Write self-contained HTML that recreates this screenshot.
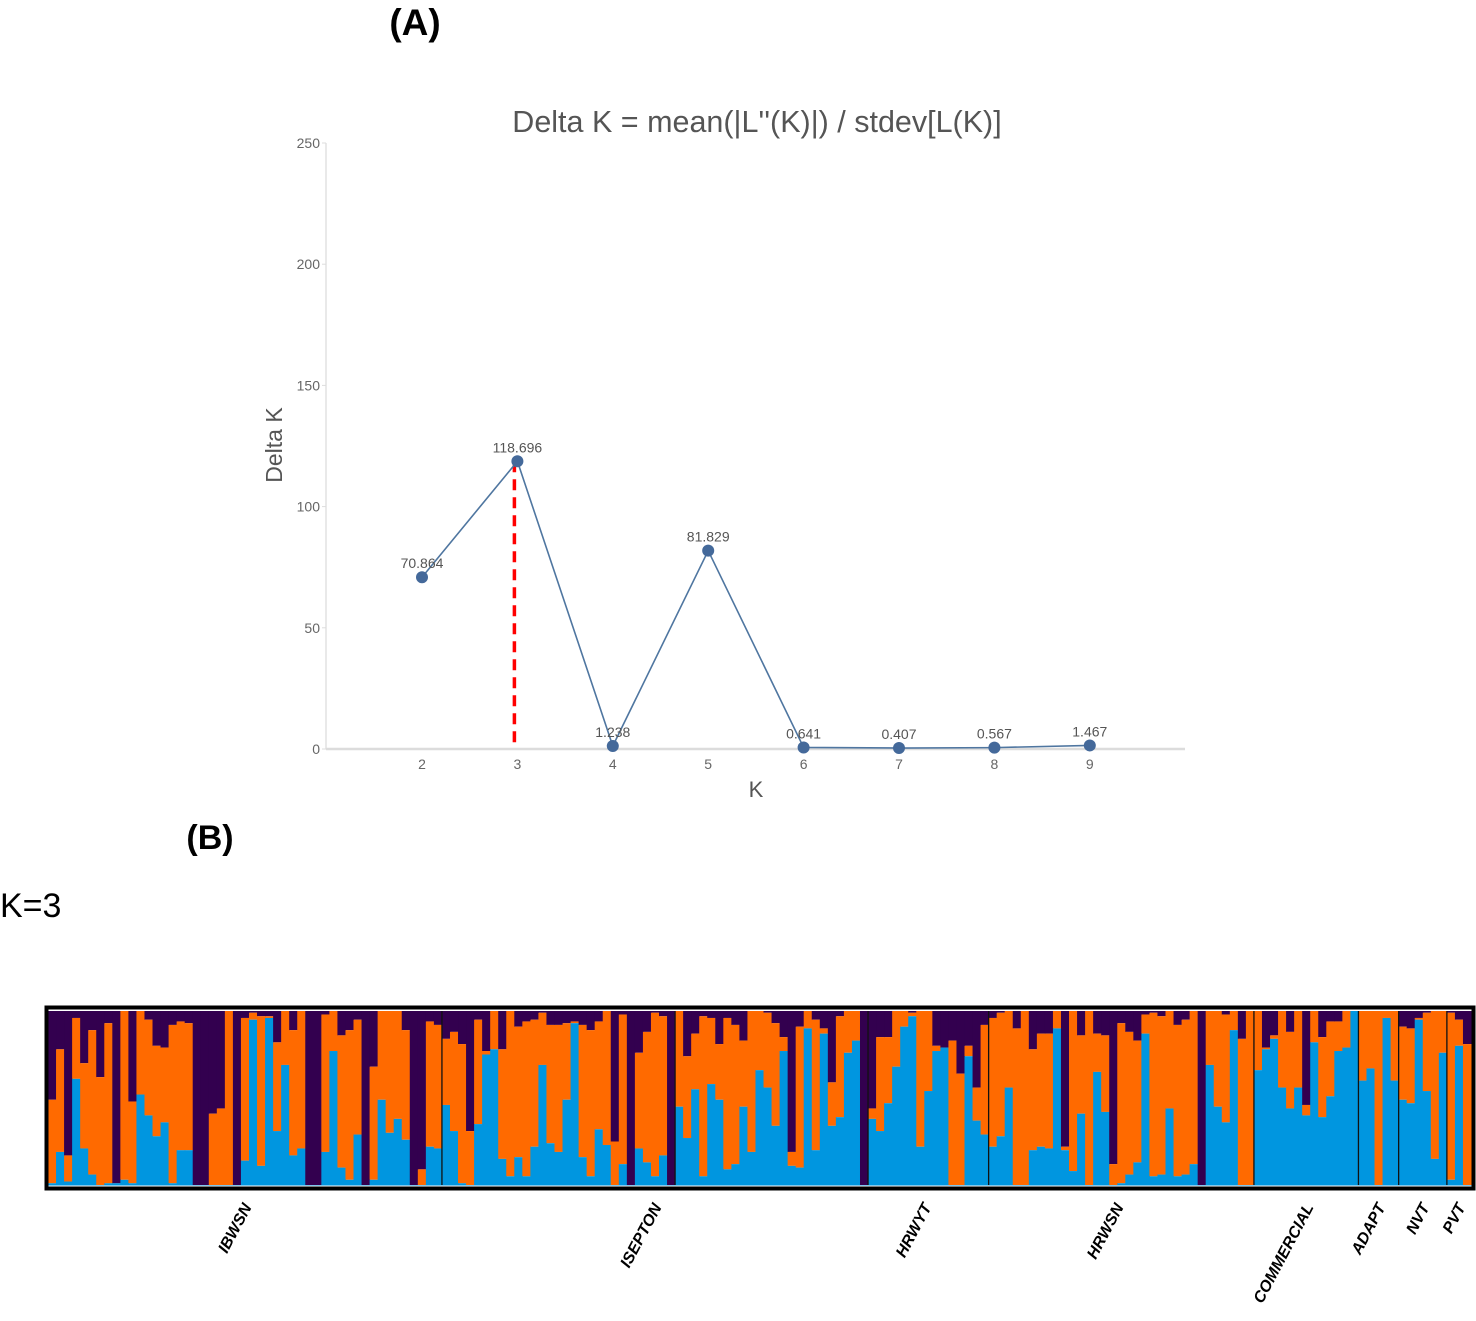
<!DOCTYPE html>
<html><head><meta charset="utf-8">
<style>
html,body{margin:0;padding:0;background:#fff;}
body{width:1476px;height:1321px;overflow:hidden;font-family:"Liberation Sans",sans-serif;}
svg{display:block;}
</style></head>
<body>
<svg id="root" width="1476" height="1321" viewBox="0 0 1476 1321">
  <text x="415" y="35" text-anchor="middle" font-family="Liberation Sans, sans-serif" font-weight="bold" font-size="37" fill="#000">(A)</text>
  <text x="757" y="132" text-anchor="middle" font-size="30.5" fill="#555">Delta K = mean(|L''(K)|) / stdev[L(K)]</text>
  <g id="lineChart"></g>
  <text x="210" y="849" text-anchor="middle" font-weight="bold" font-size="34" fill="#000">(B)</text>
  <text x="0" y="917" font-size="34" fill="#000">K=3</text>
  <g id="structure"></g>
</svg>
<script>
// ---- Delta K chart data ----
const kValues = [2,3,4,5,6,7,8,9];
const deltaK = [70.864,118.696,1.238,81.829,0.641,0.407,0.567,1.467];
const deltaKLabels = ["70.864","118.696","1.238","81.829","0.641","0.407","0.567","1.467"];
const yTicks = [0,50,100,150,200,250];
const bestK = 3;

// ---- STRUCTURE plot data (percent per individual) ----
const purplePct = [51,22,83,4,30,11,38,7,99,0,52,0,5,20,21,8,6,7,100,100,59,56,0,100,4,1,3,3,18,0,11,0,100,100,2,0,14,11,5,100,32,0,0,0,11,
100,91,6,8,16,12,19,69,5,23,0,22,0,9,6,5,1,8,8,7,6,8,11,6,0,75,2,100,24,12,1,3,100,0,26,13,3,4,19,4,8,17,0,
0,1,7,15,81,9,0,5,10,41,3,0,0,100,56,15,15,0,0,1,0,0,20,21,17,36,20,44,8,4,1,0,10,0,22,13,13,0,78,0,14,0,13,14,88,
7,12,17,2,1,3,0,8,5,0,100,0,0,2,0,16,0,0,21,14,0,12,0,54,0,15,6,6,0,0,0,0,0,0,0,9,10,4,1,0,0,1,5,19];
const bluePct = [1,19,2,61,21,6,0,1,1,3,1,52,40,28,36,1,20,20,0,0,0,0,0,0,14,95,11,96,31,69,17,21,0,0,19,77,10,3,29,0,3,49,30,38,26,
0,0,22,21,46,31,1,0,35,75,78,15,5,16,5,22,69,24,19,49,93,16,5,32,23,0,12,0,21,13,5,17,0,45,27,55,5,58,49,9,12,45,19,
66,56,34,77,11,10,90,20,87,34,39,76,83,0,38,31,47,68,91,97,22,54,77,79,0,0,74,37,29,22,28,56,0,0,20,22,21,90,20,8,41,0,65,42,0,
1,6,13,87,5,6,44,5,6,12,0,69,45,36,89,0,0,66,78,84,56,44,56,40,82,39,51,77,79,100,60,67,0,96,60,49,47,95,54,15,76,3,80,0];
const groupDividers = [49,78,102,117,150,163,168,174];
const groupNames = ["IBWSN","ISEPTON","HRWYT","HRWSN","COMMERCIAL","ADAPT","NVT","PVT"];
const groupLabelX = [252,662,932,1124,1314,1386,1430,1466];

const NS="http://www.w3.org/2000/svg";
function mk(tag, attrs, parent){const e=document.createElementNS(NS,tag);for(const k in attrs)e.setAttribute(k,attrs[k]);parent.appendChild(e);return e;}

// ---- line chart ----
(function(){
  const g=document.getElementById('lineChart');
  const x0=326,x1=1185,y0=749,yTop=143;
  const yS=v=>y0-(v/250)*(y0-yTop);
  const xS=k=>422+(k-2)*95.4;
  const ax=mk('line',{x1:x0,y1:yTop,x2:x0,y2:y0,stroke:'#e2e2e2','stroke-width':1.5},g);
  
  const bx=mk('line',{x1:x0,y1:y0,x2:x1,y2:y0,stroke:'#dcdcdc','stroke-width':2.5},g);
  
  yTicks.forEach(t=>{
    const tl=mk('line',{x1:x0-4,y1:yS(t),x2:x0,y2:yS(t),stroke:'#ddd'},g);
    
    const tx=mk('text',{x:x0-6,y:yS(t)+5,'text-anchor':'end','font-size':14,fill:'#666'},g);
    tx.textContent=t;
    
  });
  kValues.forEach(k=>{
    const tx=mk('text',{x:xS(k),y:769,'text-anchor':'middle','font-size':14,fill:'#666'},g);
    tx.textContent=k;
    
  });
  const yt=mk('text',{x:0,y:0,'text-anchor':'middle','font-size':23,fill:'#555',transform:'translate(282,445) rotate(-90)'},g);
  yt.textContent='Delta K';
  
  const xt=mk('text',{x:756,y:797,'text-anchor':'middle','font-size':22,fill:'#555'},g);
  xt.textContent='K';
  
  const bi=kValues.indexOf(bestK);
  const rl=mk('line',{x1:xS(bestK)-3,y1:yS(deltaK[bi]),x2:xS(bestK)-3,y2:y0,stroke:'#f00','stroke-width':3.5,'stroke-dasharray':'11,7'},g);
  
  const pts=kValues.map((k,i)=>xS(k)+','+yS(deltaK[i])).join(' ');
  const pl=mk('polyline',{points:pts,fill:'none',stroke:'#4f76a0','stroke-width':1.6},g);
  
  kValues.forEach((k,i)=>{
    const c=mk('circle',{cx:xS(k),cy:yS(deltaK[i]),r:6,fill:'#44699a'},g);
    
    const l=mk('text',{x:xS(k),y:yS(deltaK[i])-9,'text-anchor':'middle','font-size':14,fill:'#555'},g);
    l.textContent=deltaKLabels[i];
    
  });
})();

// ---- structure plot ----
(function(){
  const g=document.getElementById('structure');
  const L=48,R=1471,T=1011,B=1185,H=B-T;
  const n=purplePct.length, w=(R-L)/n;
  purplePct.forEach((p,i)=>{
    const b=bluePct[i], o=Math.max(0,100-p-b);
    const x=L+i*w;
    const rp=mk('rect',{x:x,y:T,width:w+0.6,height:H*p/100,fill:'#33004f'},g);
    
    const ro=mk('rect',{x:x,y:T+H*p/100,width:w+0.6,height:H*o/100,fill:'#ff6a00'},g);
    
    const rb=mk('rect',{x:x,y:T+H*(p+o)/100,width:w+0.6,height:H*b/100+0.5,fill:'#0096e0'},g);
    
  });
  groupDividers.forEach(d=>{
    const ln=mk('line',{x1:L+d*w,y1:T,x2:L+d*w,y2:B,stroke:'#111','stroke-width':1.3},g);
    
  });
  const fr=mk('rect',{x:46.5,y:1007.5,width:1427,height:181,fill:'none',stroke:'#000','stroke-width':4},g);
  
  groupNames.forEach((nm,i)=>{
    const t=mk('text',{x:0,y:0,'text-anchor':'end','font-size':16,'font-weight':'bold','font-style':'italic',fill:'#000',transform:'translate('+groupLabelX[i]+',1207) rotate(-62)'},g);
    t.textContent=nm;
    
  });
})();
</script>
</body></html>
